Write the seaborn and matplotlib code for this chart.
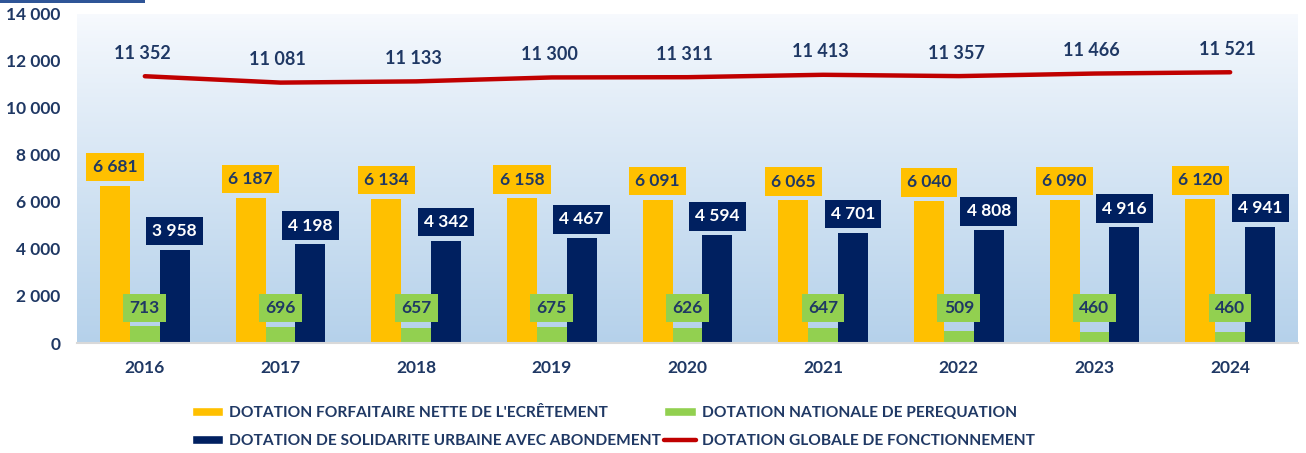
import numpy as np
import pandas as pd
import seaborn as sns
import matplotlib.pyplot as plt
from matplotlib.patches import Patch, Rectangle
from matplotlib.lines import Line2D

years = ["2016", "2017", "2018", "2019", "2020", "2021", "2022", "2023", "2024"]
forfaitaire = [6681, 6187, 6134, 6158, 6091, 6065, 6040, 6090, 6120]
perequation = [713, 696, 657, 675, 626, 647, 509, 460, 460]
solidarite = [3958, 4198, 4342, 4467, 4594, 4701, 4808, 4916, 4941]
dgf = [11352, 11081, 11133, 11300, 11311, 11413, 11357, 11466, 11521]

series_names = [
    "DOTATION FORFAITAIRE NETTE DE L'ECRÊTEMENT",
    "DOTATION NATIONALE DE PEREQUATION",
    "DOTATION DE SOLIDARITE URBAINE AVEC ABONDEMENT",
]
line_name = "DOTATION GLOBALE DE FONCTIONNEMENT"
y_ticks = [0, 2000, 4000, 6000, 8000, 10000, 12000, 14000]

ORANGE = "#FFC000"
GREEN = "#92D050"
NAVY = "#002060"
RED = "#C00000"
TEXT = "#1F3864"


def fmt(v):
    return f"{v:,}".replace(",", " ")


df = pd.DataFrame({
    "year": years * 3,
    "serie": [series_names[0]] * 9 + [series_names[1]] * 9 + [series_names[2]] * 9,
    "value": forfaitaire + perequation + solidarite,
})

sns.set_style("white")
plt.rcParams["font.family"] = ["Lato", "DejaVu Sans"]

fig = plt.figure(figsize=(13.06, 4.53), dpi=100)
ax = fig.add_axes([77 / 1306, 110 / 453, 1221 / 1306, 329 / 453])

# gradient background of the plot area
grad = np.linspace(0, 1, 256).reshape(-1, 1)
top = np.array([0.97, 0.98, 0.995])
bottom = np.array([0.71, 0.82, 0.92])
img = top + (bottom - top) * grad[:, :, None] ** 0.9
ax.imshow(img, extent=[0, 1, 0, 1], transform=ax.transAxes, aspect="auto", zorder=0)

sns.barplot(
    data=df, x="year", y="value", hue="serie",
    palette=[ORANGE, GREEN, NAVY], width=0.66, gap=0,
    saturation=1, ax=ax, legend=False, zorder=2, linewidth=0,
)
sns.lineplot(x=np.arange(len(years)), y=dgf, color=RED, linewidth=3.2,
             ax=ax, zorder=3, solid_capstyle="round")

# value labels
styles = [(ORANGE, TEXT), (GREEN, TEXT), (NAVY, "white")]
for cont, (bg, fg) in zip(ax.containers, styles):
    for bar in cont:
        x = bar.get_x() + bar.get_width() / 2
        h = bar.get_height()
        if bg == GREEN:
            ax.text(x, 1500, fmt(int(round(h))), ha="center", va="center",
                    fontsize=12.5, fontweight="bold", color=fg, zorder=5,
                    bbox=dict(boxstyle="square,pad=0.36", fc=bg, ec="none"))
        else:
            ax.annotate(fmt(int(round(h))), (x, h), xytext=(0, 13.5),
                        textcoords="offset points", ha="center", va="center",
                        fontsize=12.5, fontweight="bold", color=fg, zorder=5,
                        bbox=dict(boxstyle="square,pad=0.36", fc=bg, ec="none"))

for i, v in enumerate(dgf):
    ax.annotate(fmt(v), (i, v), xytext=(-2, 16.5), textcoords="offset points",
                ha="center", va="center", fontsize=13, fontweight="bold",
                color=TEXT, zorder=5)

ax.set_xlim(-0.5, len(years) - 0.5)
ax.set_ylim(0, 14000)
ax.set_yticks(y_ticks)
ax.set_yticklabels([fmt(t) for t in y_ticks])
ax.set_xlabel("")
ax.set_ylabel("")
ax.tick_params(axis="both", length=0, labelsize=12.5, labelcolor=TEXT)
ax.tick_params(axis="y", pad=12)
ax.tick_params(axis="x", pad=12)
for lab in ax.get_xticklabels() + ax.get_yticklabels():
    lab.set_fontweight("bold")
for s in ["top", "right", "left"]:
    ax.spines[s].set_visible(False)
ax.spines["bottom"].set_color("#D9D9D9")
ax.spines["bottom"].set_linewidth(1.5)

handles = [
    Patch(facecolor=ORANGE, label=series_names[0]),
    Patch(facecolor=NAVY, label=series_names[2]),
    Patch(facecolor=GREEN, label=series_names[1]),
    Line2D([0], [0], color=RED, linewidth=3.2, label=line_name),
]
leg = fig.legend(handles=handles, ncol=2, loc="upper left",
                 bbox_to_anchor=(178 / 1306, 61 / 453), frameon=False,
                 fontsize=11.2, handlelength=2.0, handleheight=0.55,
                 handletextpad=0.4, columnspacing=0.2, labelspacing=0.92)
for t in leg.get_texts():
    t.set_color(TEXT)
    t.set_fontweight("bold")

# small title rule at the top left
fig.add_artist(Rectangle((0, 450 / 453), 145 / 1306, 3 / 453,
                         transform=fig.transFigure, color="#2F5597", lw=0))

fig.savefig("out.png", dpi=100)
